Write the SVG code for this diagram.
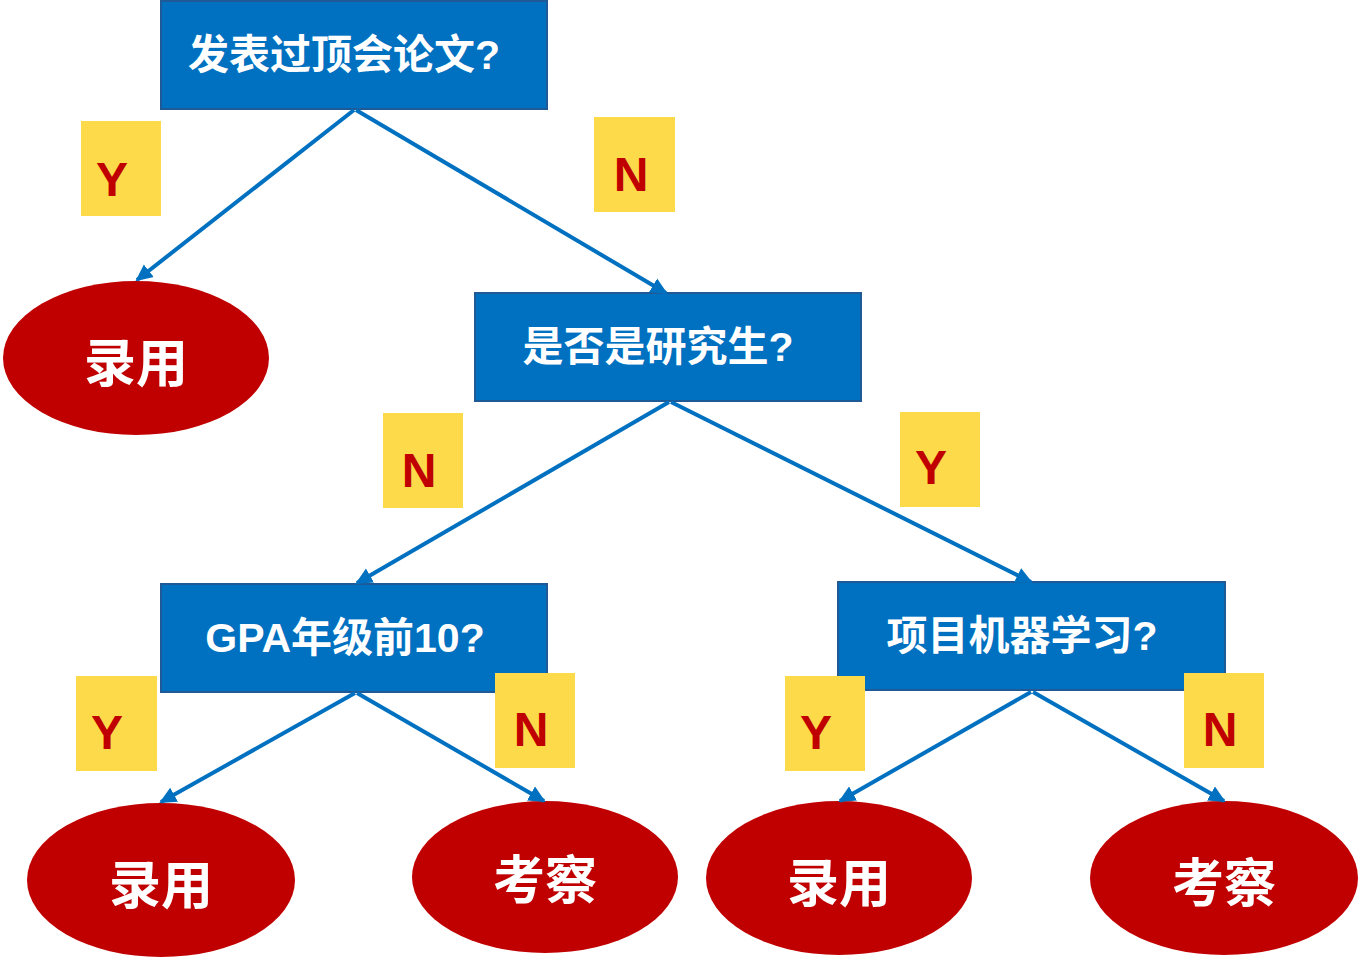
<svg xmlns="http://www.w3.org/2000/svg" width="1360" height="960" viewBox="0 0 1360 960">
  <defs>
    <style>
      .box { fill: #0070C0; stroke: #1F5A96; stroke-width: 2; }
      .boxtxt { fill: #FFFFFF; font-family: "Liberation Sans", "Noto Sans CJK SC", sans-serif; font-weight: bold; font-size: 41px; text-anchor: middle; dominant-baseline: central; }
      .leaf { fill: #C00000; }
      .leaftxt { fill: #FFFFFF; font-family: "Noto Sans CJK SC", sans-serif; font-weight: bold; font-size: 52px; text-anchor: middle; dominant-baseline: central; }
      .tag { fill: #FDDA4A; }
      .tagtxt { fill: #C00000; font-family: "Liberation Sans", Arial, sans-serif; font-weight: bold; font-size: 48px; text-anchor: middle; dominant-baseline: central; }
      .edge { stroke: #0070C0; stroke-width: 4; fill: none; marker-end: url(#arrow); }
    </style>
    <marker id="arrow" markerUnits="userSpaceOnUse" markerWidth="18" markerHeight="18" viewBox="0 0 18 18" refX="15" refY="9" orient="auto">
      <path d="M0,1 L17,9 L0,17 Z" fill="#0070C0"/>
    </marker>
  </defs>

  <!-- decision boxes -->
  <g id="q1">
    <rect class="box" x="161" y="1" width="386" height="108"/>
    <text class="boxtxt" x="344" y="55">发表过顶会论文?</text>
  </g>
  <g id="q2">
    <rect class="box" x="475" y="293" width="386" height="108"/>
    <text class="boxtxt" x="658" y="347">是否是研究生?</text>
  </g>
  <g id="q3">
    <rect class="box" x="161" y="584" width="386" height="108"/>
    <text class="boxtxt" x="345" y="638">GPA年级前10?</text>
  </g>
  <g id="q4">
    <rect class="box" x="838" y="582" width="387" height="108"/>
    <text class="boxtxt" x="1022" y="636">项目机器学习?</text>
  </g>

  <!-- outcome leaves -->
  <g id="leaf1">
    <ellipse class="leaf" cx="136" cy="358" rx="133" ry="77"/>
    <text class="leaftxt" x="136" y="359">录用</text>
  </g>
  <g id="leaf2">
    <ellipse class="leaf" cx="161" cy="880" rx="134" ry="77"/>
    <text class="leaftxt" x="161" y="881">录用</text>
  </g>
  <g id="leaf3">
    <ellipse class="leaf" cx="545" cy="877" rx="133" ry="76"/>
    <text class="leaftxt" x="545" y="876">考察</text>
  </g>
  <g id="leaf4">
    <ellipse class="leaf" cx="839" cy="878" rx="133" ry="77"/>
    <text class="leaftxt" x="839" y="879">录用</text>
  </g>
  <g id="leaf5">
    <ellipse class="leaf" cx="1224" cy="878" rx="134" ry="77"/>
    <text class="leaftxt" x="1224" y="879">考察</text>
  </g>

  <!-- connectors -->
  <g id="edges">
    <line class="edge" x1="354" y1="110" x2="137" y2="280"/>
    <line class="edge" x1="356" y1="110" x2="666" y2="293"/>
    <line class="edge" x1="669" y1="402" x2="357" y2="583"/>
    <line class="edge" x1="671" y1="402" x2="1031" y2="582"/>
    <line class="edge" x1="355" y1="693" x2="161" y2="802"/>
    <line class="edge" x1="357" y1="693" x2="544" y2="801"/>
    <line class="edge" x1="1031" y1="692" x2="840" y2="801"/>
    <line class="edge" x1="1033" y1="692" x2="1224" y2="801"/>
  </g>

  <!-- branch tags -->
  <g id="tag-y1">
    <rect class="tag" x="81" y="121" width="80" height="95"/>
    <text class="tagtxt" x="112" y="179">Y</text>
  </g>
  <g id="tag-n1">
    <rect class="tag" x="594" y="117" width="81" height="95"/>
    <text class="tagtxt" x="631" y="174">N</text>
  </g>
  <g id="tag-n2">
    <rect class="tag" x="383" y="413" width="80" height="95"/>
    <text class="tagtxt" x="419" y="470">N</text>
  </g>
  <g id="tag-y2">
    <rect class="tag" x="900" y="412" width="80" height="95"/>
    <text class="tagtxt" x="931" y="467">Y</text>
  </g>
  <g id="tag-y3">
    <rect class="tag" x="76" y="676" width="81" height="95"/>
    <text class="tagtxt" x="107" y="732">Y</text>
  </g>
  <g id="tag-n3">
    <rect class="tag" x="495" y="673" width="80" height="95"/>
    <text class="tagtxt" x="531" y="729">N</text>
  </g>
  <g id="tag-y4">
    <rect class="tag" x="785" y="676" width="80" height="95"/>
    <text class="tagtxt" x="816" y="732">Y</text>
  </g>
  <g id="tag-n4">
    <rect class="tag" x="1184" y="673" width="80" height="95"/>
    <text class="tagtxt" x="1220" y="729">N</text>
  </g>
</svg>
